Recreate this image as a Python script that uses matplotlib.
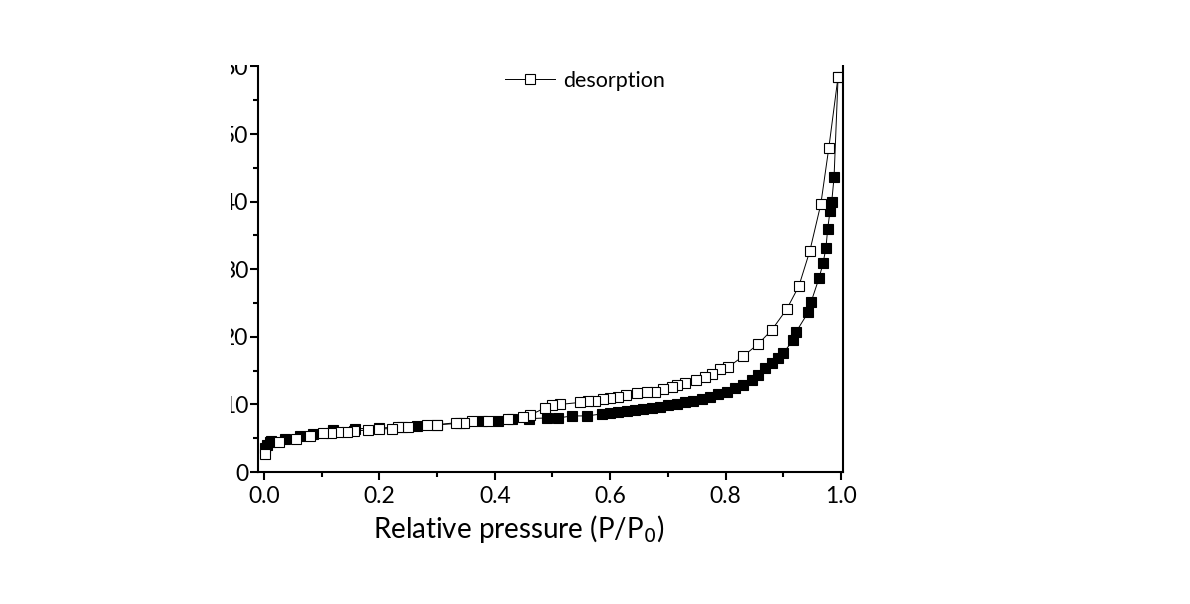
import numpy as np
import matplotlib.pyplot as plt
from matplotlib.patches import Rectangle
from matplotlib.ticker import MultipleLocator

plt.rcParams['font.family'] = ['Lato', 'DejaVu Sans']

# adsorption branch (filled squares)
ads_p = [0.002, 0.006, 0.010, 0.013, 0.036, 0.062, 0.085, 0.12, 0.158, 0.20,
         0.24, 0.265, 0.30, 0.34, 0.378, 0.405, 0.43, 0.46, 0.49, 0.51,
         0.534, 0.56, 0.586, 0.60, 0.614, 0.629, 0.643, 0.657, 0.672, 0.686,
         0.70, 0.716, 0.73, 0.744, 0.759, 0.773, 0.787, 0.802, 0.816, 0.83,
         0.845, 0.856, 0.868, 0.88, 0.891, 0.90, 0.917, 0.922, 0.943, 0.948,
         0.962, 0.969, 0.974, 0.977, 0.981, 0.984, 0.988, 0.995]
ads_v = [3.6, 4.0, 4.4, 4.6, 4.9, 5.4, 5.6, 6.2, 6.4, 6.5,
         6.7, 6.8, 7.0, 7.2, 7.5, 7.6, 7.8, 7.9, 8.0, 8.0,
         8.3, 8.3, 8.6, 8.7, 8.9, 9.0, 9.2, 9.3, 9.5, 9.6,
         9.9, 10.0, 10.3, 10.5, 10.8, 11.1, 11.5, 11.8, 12.4, 12.9,
         13.6, 14.3, 15.4, 16.1, 16.8, 17.6, 19.5, 20.7, 23.6, 25.1,
         28.7, 30.9, 33.2, 36.0, 38.6, 40.0, 43.6, 58.5]

# desorption branch (open squares)
des_p = [0.995, 0.979, 0.965, 0.946, 0.927, 0.906, 0.88, 0.856, 0.83, 0.804,
         0.79, 0.776, 0.764, 0.749, 0.73, 0.716, 0.707, 0.692, 0.678, 0.664,
         0.646, 0.627, 0.614, 0.60, 0.587, 0.574, 0.562, 0.548, 0.513, 0.50,
         0.487, 0.461, 0.449, 0.423, 0.388, 0.36, 0.347, 0.333, 0.30, 0.283,
         0.25, 0.232, 0.222, 0.20, 0.18, 0.156, 0.144, 0.128, 0.116, 0.102,
         0.08, 0.055, 0.026, 0.002]
des_v = [58.5, 48.0, 39.6, 32.7, 27.5, 24.1, 21.0, 18.9, 17.1, 15.5,
         15.2, 14.5, 14.0, 13.6, 13.1, 12.9, 12.6, 12.3, 11.8, 11.8,
         11.7, 11.4, 11.1, 10.9, 10.8, 10.5, 10.5, 10.3, 10.0, 9.9,
         9.5, 8.4, 8.1, 7.8, 7.5, 7.5, 7.3, 7.3, 7.0, 7.0,
         6.7, 6.7, 6.4, 6.4, 6.2, 6.1, 5.9, 5.9, 5.8, 5.8,
         5.3, 4.9, 4.4, 2.7]

fig = plt.figure(figsize=(11.9, 6.04), dpi=100)
ax = fig.add_axes([0.2168, 0.2185, 0.4916, 0.6715])

ax.plot(ads_p, ads_v, color='black', lw=0.7, marker='s', ms=7,
        mfc='black', mec='black', mew=0.8, label='adsorption')
des_line, = ax.plot(des_p, des_v, color='black', lw=0.7, marker='s', ms=7,
                    mfc='white', mec='black', mew=0.8, label='desorption')

ax.set_xlim(-0.0104, 1.0035)
ax.set_ylim(0, 60)

ax.xaxis.set_major_locator(MultipleLocator(0.2))
ax.xaxis.set_minor_locator(MultipleLocator(0.1))
ax.yaxis.set_major_locator(MultipleLocator(10))
ax.yaxis.set_minor_locator(MultipleLocator(5))
ax.set_xticks([0, 0.2, 0.4, 0.6, 0.8, 1.0])
ax.set_xticklabels(['0.0', '0.2', '0.4', '0.6', '0.8', '1.0'])

ax.tick_params(which='major', direction='out', length=6, width=1.5,
               labelsize=16.5, pad=4, right=False, top=False)
ax.tick_params(axis='y', which='major', pad=1.0)
ax.tick_params(which='minor', direction='out', length=3.5, width=1.5,
               right=False, top=False)

ax.spines['top'].set_visible(False)
for s in ['left', 'bottom', 'right']:
    ax.spines[s].set_linewidth(1.5)

ax.set_xlabel('Relative pressure (P/P$_0$)', fontsize=20)
ax.xaxis.set_label_coords(0.445, -0.10)

ax.legend(handles=[des_line], loc='upper left', bbox_to_anchor=(0.415, 1.0),
          frameon=False, fontsize=15.5, handlelength=2.3, handletextpad=0.4,
          borderaxespad=0.0, borderpad=0.2)

# the reference is a crop: hide what lies outside it
fig.add_artist(Rectangle((0, 0), 0.194, 1, transform=fig.transFigure,
                         facecolor='white', edgecolor='none', zorder=10))
fig.add_artist(Rectangle((0, 0.8925), 1, 0.2, transform=fig.transFigure,
                         facecolor='white', edgecolor='none', zorder=10))

fig.savefig('out.png', dpi=100)
